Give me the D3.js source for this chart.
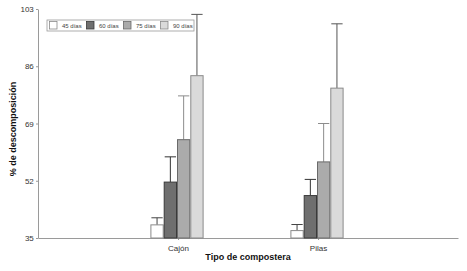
<!DOCTYPE html>
<html>
<head>
<meta charset="utf-8">
<script src="https://cdn.jsdelivr.net/npm/d3@7"></script>
<style>
  body { margin: 0; background: #fff; }
  svg { font-family: "Liberation Sans", Arial, sans-serif; }
</style>
</head>
<body>
<div id="chart"></div>
<script>
// Data
const categories = ["Cajón", "Pilas"];
const series = ["45 días", "60 días", "75 días", "90 días"];
const means = [
  [38.9, 51.6, 64.2, 83.2],
  [37.2, 47.6, 57.6, 79.5]
];
const errors = [
  [2.1, 7.5, 13.0, 18.2],
  [1.8, 4.8, 11.4, 19.1]
];
const yTicks = [35, 52, 69, 86, 103];

const fills = ["#ffffff", "#6f6f6f", "#ababab", "#dadada"];
const strokes = ["#8a8a8a", "#3a3a3a", "#6a6a6a", "#8a8a8a"];
const errColors = ["#444", "#333", "#8c8c8c", "#555"];

const width = 467, height = 271;
const margin = { top: 9, right: 9, bottom: 33, left: 38 };

const svg = d3.select("#chart")
  .append("svg")
  .attr("width", width)
  .attr("height", height);

const x = d3.scalePoint()
  .domain(categories)
  .range([margin.left, width - margin.right])
  .padding(1);

const y = d3.scaleLinear()
  .domain([35, 103])
  .range([height - margin.bottom, margin.top]);

const barW = 13.3;
const inner = d3.scaleBand()
  .domain(series)
  .range([-barW * 2, barW * 2]);

// Axes
const xAxis = svg.append("g")
  .attr("transform", `translate(0, ${y(35)})`)
  .call(d3.axisBottom(x).tickSize(2).tickSizeOuter(0));

const yAxis = svg.append("g")
  .attr("transform", `translate(${margin.left}, 0)`)
  .call(d3.axisLeft(y).tickValues(yTicks).tickSize(2).tickSizeOuter(0));

[xAxis, yAxis].forEach(function (g) {
  g.select(".domain").attr("stroke", "#9a9a9a");
  g.selectAll(".tick line").attr("stroke", "#9a9a9a");
  g.selectAll("text")
    .attr("fill", "#333")
    .style("font-size", "8px");
});
xAxis.selectAll("text").attr("dy", "0.95em");
yAxis.selectAll("text").attr("dx", "0.1em");

// Bars
const groups = svg.selectAll(".group")
  .data(categories)
  .enter()
  .append("g")
  .attr("class", "group")
  .attr("transform", function (d) { return `translate(${x(d) - 1}, 0)`; });

groups.each(function (cat, ci) {
  const g = d3.select(this);
  series.forEach(function (s, si) {
    const m = means[ci][si];
    const e = errors[ci][si];
    const bx = inner(s);
    const cx = bx + barW / 2;

    g.append("line")
      .attr("x1", cx).attr("x2", cx)
      .attr("y1", y(m)).attr("y2", y(m + e))
      .attr("stroke", errColors[si])
      .attr("stroke-width", 1);

    g.append("line")
      .attr("x1", bx + 1).attr("x2", bx + barW - 1)
      .attr("y1", y(m + e)).attr("y2", y(m + e))
      .attr("stroke", errColors[si])
      .attr("stroke-width", 1);

    g.append("rect")
      .attr("x", bx + 0.5)
      .attr("y", y(m))
      .attr("width", barW - 1)
      .attr("height", y(35) - y(m))
      .attr("fill", fills[si])
      .attr("stroke", strokes[si])
      .attr("stroke-width", 1);
  });
});

// Legend
const legend = svg.append("g").attr("transform", "translate(47, 20)");
legend.append("rect")
  .attr("width", 147)
  .attr("height", 11)
  .attr("fill", "#fff")
  .attr("stroke", "#9a9a9a")
  .attr("stroke-width", 0.8);

series.forEach(function (s, i) {
  const item = legend.append("g").attr("transform", `translate(${2.5 + i * 37}, 1.5)`);
  item.append("rect")
    .attr("width", 7.5)
    .attr("height", 7.5)
    .attr("fill", fills[i])
    .attr("stroke", strokes[i])
    .attr("stroke-width", 0.8);
  item.append("text")
    .attr("x", 12.5)
    .attr("y", 6.5)
    .attr("fill", "#444")
    .style("font-size", "6px")
    .text(s);
});

// Axis titles
svg.append("text")
  .attr("x", (margin.left + width - margin.right) / 2)
  .attr("y", 260)
  .attr("text-anchor", "middle")
  .style("font-size", "9px")
  .style("font-weight", "bold")
  .attr("fill", "#111")
  .text("Tipo de compostera");

svg.append("text")
  .attr("transform", "translate(16, 129) rotate(-90)")
  .attr("text-anchor", "middle")
  .style("font-size", "9px")
  .style("font-weight", "bold")
  .attr("fill", "#111")
  .text("% de descomposición");
</script>
</body>
</html>
